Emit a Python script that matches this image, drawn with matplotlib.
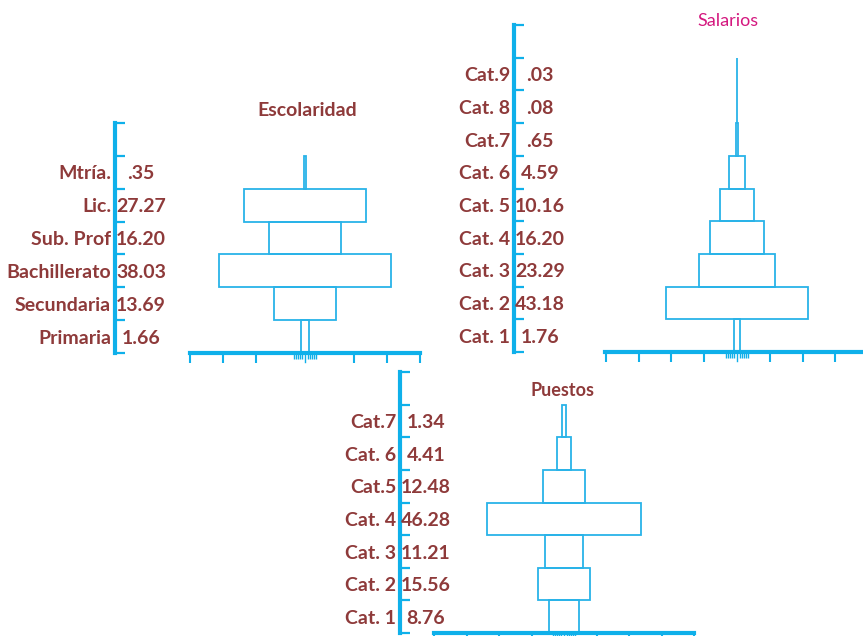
import matplotlib
matplotlib.use("Agg")
import matplotlib.pyplot as plt
import numpy as np

W, H = 863, 636
BLUE = "#0FB0EA"
BOX = "#29B3E8"
TXT = "#8E3A3A"
MAG = "#D4187F"

esc_labels = ["Primaria", "Secundaria", "Bachillerato", "Sub. Prof", "Lic.", "Mtría."]
esc_values = [1.66, 13.69, 38.03, 16.20, 27.27, 0.35]
esc_texts = ["1.66", "13.69", "38.03", "16.20", "27.27", ".35"]

sal_labels = ["Cat. 1", "Cat. 2", "Cat. 3", "Cat. 4", "Cat. 5", "Cat. 6", "Cat.7", "Cat. 8", "Cat.9"]
sal_values = [1.76, 43.18, 23.29, 16.20, 10.16, 4.59, 0.65, 0.08, 0.03]
sal_texts = ["1.76", "43.18", "23.29", "16.20", "10.16", "4.59", ".65", ".08", ".03"]

pue_labels = ["Cat. 1", "Cat. 2", "Cat. 3", "Cat. 4", "Cat.5", "Cat. 6", "Cat.7"]
pue_values = [8.76, 15.56, 11.21, 46.28, 12.48, 4.41, 1.34]
pue_texts = ["8.76", "15.56", "11.21", "46.28", "12.48", "4.41", "1.34"]

plt.rcParams['font.family'] = ['Lato', 'DejaVu Sans']

fig = plt.figure(figsize=(W / 100, H / 100), dpi=100)


def rect(x0, ytop, w, h):
    return [x0 / W, 1 - (ytop + h) / H, w / W, h / H]


def panel(labels, values, texts, title, title_color, title_weight, title_size,
          title_xy, vx, ytop, ybot, bx0, bx1, pxu, major_k, cluster_px):
    n = len(labels)
    nint = n + 1
    h = ybot - ytop
    # vertical label axis
    la = fig.add_axes(rect(vx, ytop, 60, h))
    la.set_xlim(0, 60)
    la.set_ylim(0, nint)
    for s in ["top", "right", "bottom"]:
        la.spines[s].set_visible(False)
    la.spines["left"].set_color(BLUE)
    la.spines["left"].set_linewidth(3)
    la.set_yticks(range(nint + 1))
    la.set_yticklabels([])
    la.set_xticks([])
    la.tick_params(axis="y", direction="in", length=7, width=1.6, color=BLUE)
    la.patch.set_visible(False)
    for i, (lab, t) in enumerate(zip(labels, texts)):
        la.text(-4, i + 0.45, lab, ha="right", va="center", fontsize=14,
                fontweight="bold", color=TXT, clip_on=False)
        la.text(26, i + 0.45, t, ha="center", va="center", fontsize=14,
                fontweight="bold", color=TXT, clip_on=False)
    # box axis
    bw = bx1 - bx0
    L = bw / 2 / pxu
    ba = fig.add_axes(rect(bx0, ytop, bw, h))
    ba.set_xlim(-L, L)
    ba.set_ylim(0, nint)
    ba.patch.set_visible(False)
    for s in ["top", "right", "left"]:
        ba.spines[s].set_visible(False)
    ba.spines["bottom"].set_color(BLUE)
    ba.spines["bottom"].set_linewidth(3)
    v = np.array(values)
    ba.barh(np.arange(n) + 0.5, v, left=-v / 2, height=1.0, fill=False,
            edgecolor=BOX, linewidth=1.3)
    step = 32.8 / pxu
    majors = [k * step for k in major_k] + [-k * step for k in major_k]
    ba.set_xticks(majors)
    ba.set_xticklabels([])
    ba.tick_params(axis="x", direction="out", length=7, width=1.5, color=BLUE)
    ba.set_xticks([p / pxu for p in cluster_px], minor=True)
    ba.tick_params(axis="x", which="minor", direction="out", length=4,
                   width=1, color=BLUE)
    ba.plot([0, 0], [0, -9 / h * nint], color=BLUE, lw=1, clip_on=False)
    ba.set_yticks([])
    fig.text(title_xy[0] / W, 1 - title_xy[1] / H, title, ha="center",
             va="center", fontsize=title_size, fontweight=title_weight,
             color=title_color)


cl = [-11, -9, -7, -5, -3, 3, 5, 7, 9, 11]
panel(esc_labels, esc_values, esc_texts, "Escolaridad", TXT, "bold", 14,
      (307, 111), 115, 123, 353, 190, 420, 4.5, [1.5, 2.5, 3.5], cl)
panel(sal_labels, sal_values, sal_texts, "Salarios", MAG, "normal", 13,
      (728, 21), 514, 25, 352, 605, 869, 3.3, [1, 2, 3, 4], cl)
panel(pue_labels, pue_values, pue_texts, "Puestos", TXT, "bold", 13,
      (563, 391), 400, 372, 633, 434, 694, 3.37, [1, 2, 3, 4], cl)

fig.savefig("out.png", dpi=100)
